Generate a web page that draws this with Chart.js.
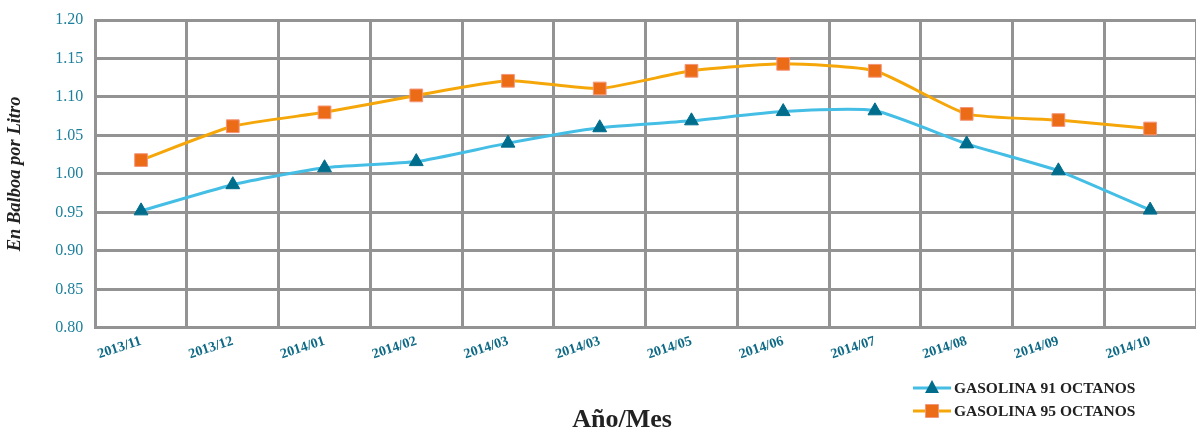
<!DOCTYPE html>
<html>
<head>
<meta charset="utf-8">
<script src="https://cdn.jsdelivr.net/npm/chart.js"></script>
<style>
  html, body { margin: 0; padding: 0; background: #ffffff; overflow: hidden; }
  #contenedor { width: 1196px; height: 428px; position: relative; }
</style>
</head>
<body>
<div id="contenedor"><canvas id="preciosChart"></canvas></div>
<script>
// Datos
const meses = ['2013/11', '2013/12', '2014/01', '2014/02', '2014/03', '2014/03',
               '2014/05', '2014/06', '2014/07', '2014/08', '2014/09', '2014/10'];
const gasolina91 = [0.952, 0.986, 1.008, 1.016, 1.040, 1.060, 1.069, 1.081, 1.082, 1.039, 1.004, 0.953];
const gasolina95 = [1.018, 1.062, 1.080, 1.102, 1.121, 1.111, 1.134, 1.143, 1.134, 1.078, 1.070, 1.059];
const nombres = ['GASOLINA 91 OCTANOS', 'GASOLINA 95 OCTANOS'];
const tituloX = 'Año/Mes';
const tituloY = 'En Balboa por Litro';
const ejeYMin = 0.80;
const ejeYMax = 1.20;
const ejeYPaso = 0.05;

const colores = {
    grid: '#939393',
    linea91: '#45BEE6',
    punto91: '#006D8C',
    linea95: '#F5A70A',
    punto95: '#EC6B17',
    borde95: '#F4967A',
    ticks: '#1C7F9B',
    ticksX: '#0E6A86',
    texto: '#222222'
};

// Leyenda y título del eje X dibujados a mano (abajo)
const leyendaPlugin = {
    id: 'leyendaManual',
    afterDraw(chart) {
        const ctx = chart.ctx;
        const x0 = 913, x1 = 951, xt = 954;
        const filas = [388, 411];

        ctx.save();
        ctx.fillStyle = colores.texto;
        ctx.font = 'bold 26px "Liberation Serif"';
        ctx.textAlign = 'center';
        ctx.textBaseline = 'alphabetic';
        ctx.fillText(tituloX, 622, 427);
        ctx.restore();

        chart.data.datasets.forEach((ds, i) => {
            const y = filas[i];
            ctx.save();
            ctx.strokeStyle = ds.borderColor;
            ctx.lineWidth = 3;
            ctx.beginPath();
            ctx.moveTo(x0, y);
            ctx.lineTo(x1, y);
            ctx.stroke();
            const cx = (x0 + x1) / 2;
            ctx.fillStyle = ds.pointBackgroundColor;
            ctx.beginPath();
            if (ds.pointStyle === 'triangle') {
                ctx.moveTo(cx, y - 8);
                ctx.lineTo(cx + 7, y + 5);
                ctx.lineTo(cx - 7, y + 5);
                ctx.closePath();
                ctx.fill();
            } else {
                ctx.rect(cx - 6.5, y - 6.5, 13, 13);
                ctx.fill();
                ctx.strokeStyle = ds.pointBorderColor;
                ctx.lineWidth = 1;
                ctx.stroke();
            }
            ctx.fillStyle = colores.texto;
            ctx.font = 'bold 15.5px "Liberation Serif"';
            ctx.textBaseline = 'middle';
            ctx.textAlign = 'left';
            ctx.fillText(ds.label, xt, y + 1);
            ctx.restore();
        });
    }
};

document.addEventListener('DOMContentLoaded', () => {
    const ctx = document.getElementById('preciosChart').getContext('2d');
    new Chart(ctx, {
        type: 'line',
        data: {
            labels: meses,
            datasets: [{
                label: nombres[0],
                data: gasolina91,
                borderColor: colores.linea91,
                borderWidth: 3,
                pointStyle: 'triangle',
                pointRadius: 8,
                pointBackgroundColor: colores.punto91,
                pointBorderColor: colores.punto91,
                pointBorderWidth: 1,
                tension: 0.18,
                fill: false
            }, {
                label: nombres[1],
                data: gasolina95,
                borderColor: colores.linea95,
                borderWidth: 3,
                pointStyle: 'rect',
                pointRadius: 9,
                pointBackgroundColor: colores.punto95,
                pointBorderColor: colores.borde95,
                pointBorderWidth: 1,
                tension: 0.18,
                fill: false
            }]
        },
        options: {
            responsive: true,
            maintainAspectRatio: false,
            animation: false,
            layout: { autoPadding: false, padding: { top: 4, right: 0, left: 4, bottom: 60 } },
            plugins: {
                legend: { display: false },
                tooltip: { enabled: false }
            },
            scales: {
                x: {
                    offset: true,
                    grid: {
                        // la última línea queda fuera del recorte en el original
                        color: (c) => c.index === meses.length ? 'rgba(0,0,0,0)' : colores.grid,
                        lineWidth: 3,
                        offset: true,
                        drawTicks: false
                    },
                    border: { color: colores.grid, width: 3 },
                    ticks: {
                        color: colores.ticksX,
                        font: { family: 'Liberation Serif', size: 14, weight: 'bold' },
                        minRotation: 18,
                        maxRotation: 18,
                        padding: 5,
                        autoSkip: false
                    }
                },
                y: {
                    min: ejeYMin,
                    max: ejeYMax,
                    grid: { color: colores.grid, lineWidth: 3, drawTicks: false },
                    border: { color: colores.grid, width: 3 },
                    ticks: {
                        stepSize: ejeYPaso,
                        color: colores.ticks,
                        font: { family: 'Liberation Serif', size: 16, lineHeight: 1 },
                        padding: 12,
                        callback: (v) => Number(v).toFixed(2)
                    },
                    title: {
                        display: true,
                        text: tituloY,
                        color: colores.texto,
                        font: { family: 'Liberation Serif', size: 18.5, weight: 'bold', style: 'italic' },
                        padding: { top: 0, bottom: 17 }
                    }
                }
            }
        },
        plugins: [leyendaPlugin]
    });
});
</script>
</body>
</html>
